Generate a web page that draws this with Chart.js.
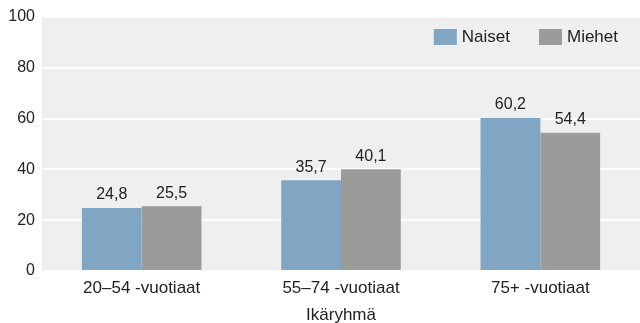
<!DOCTYPE html>
<html>
<head>
<meta charset="utf-8">
<script src="https://cdn.jsdelivr.net/npm/chart.js@4/dist/chart.umd.min.js"></script>
<style>
  html, body { margin: 0; padding: 0; background: #fff; }
  #wrap { width: 640px; height: 323px; }
</style>
</head>
<body>
<div id="wrap"><canvas id="grafica"></canvas></div>
<script>
var categories = ["20\u201354 -vuotiaat", "55\u201374 -vuotiaat", "75+ -vuotiaat"];
var naiset = [24.8, 35.7, 60.2];
var miehet = [25.5, 40.1, 54.4];
var seriesNames = ["Naiset", "Miehet"];
var yTicks = [0, 20, 40, 60, 80, 100];
var axisTitle = "Ikäryhmä";

var FONT = "'Liberation Sans', Arial, Helvetica, sans-serif";
var TXT = "#222222";

function fmt(v) {
	return v.toFixed(1).replace('.', ',');
}

// grey plot background
var bgPlugin = {
	id: 'bg',
	beforeDraw: function(chart) {
		var a = chart.chartArea, c = chart.ctx;
		c.save();
		c.fillStyle = '#efefef';
		c.fillRect(a.left, a.top, a.right - a.left, a.bottom - a.top);
		c.restore();
	}
};

// value labels and the legend inside the plot
var labelPlugin = {
	id: 'labels',
	afterDatasetsDraw: function(chart) {
		var c = chart.ctx;
		c.save();
		c.font = '16px ' + FONT;
		c.fillStyle = TXT;
		c.textAlign = 'center';
		c.textBaseline = 'bottom';
		chart.data.datasets.forEach(function(ds, i) {
			chart.getDatasetMeta(i).data.forEach(function(bar, j) {
				c.fillText(fmt(ds.data[j]), bar.x, bar.y - 5);
			});
		});

		// legend, laid out from the right
		var a = chart.chartArea;
		var x = a.right - 22;
		var y = 37;
		c.font = '17px ' + FONT;
		c.textAlign = 'left';
		c.textBaseline = 'middle';
		var items = chart.data.datasets.slice().reverse();
		items.forEach(function(ds) {
			var w = c.measureText(ds.label).width;
			x -= w;
			c.fillStyle = TXT;
			c.fillText(ds.label, x, y);
			x -= 5 + 23;
			c.fillStyle = ds.backgroundColor;
			c.fillRect(x, y - 8, 23, 16);
			x -= 29;
		});
		c.restore();
	}
};

var ctx = document.getElementById('grafica');
var myChart = new Chart(ctx, {
	type: 'bar',
	data: {
		labels: categories,
		datasets: [
			{ label: seriesNames[0], data: naiset, backgroundColor: '#80a6c3', borderWidth: 0,
			  categoryPercentage: 0.6, barPercentage: 1.0 },
			{ label: seriesNames[1], data: miehet, backgroundColor: '#9b9b99', borderWidth: 0,
			  categoryPercentage: 0.6, barPercentage: 1.0 }
		]
	},
	options: {
		responsive: true,
		maintainAspectRatio: false,
		animation: false,
		layout: { padding: { top: 17, right: 0, left: 0, bottom: 0 } },
		plugins: {
			legend: { display: false },
			tooltip: { enabled: false }
		},
		scales: {
			x: {
				grid: { display: false, drawTicks: false },
				border: { display: false },
				ticks: { color: TXT, font: { family: FONT, size: 17 }, padding: 7 },
				title: { display: true, text: axisTitle, color: TXT, font: { family: FONT, size: 17 }, padding: { top: 8, bottom: -3 } },
				afterFit: function(s) { s.height = 52; }
			},
			y: {
				min: 0,
				max: 100,
				afterBuildTicks: function(s) {
					s.ticks = yTicks.map(function(v) { return { value: v }; });
				},
				grid: { color: '#ffffff', lineWidth: 2, drawTicks: false },
				border: { display: false },
				ticks: { color: TXT, font: { family: FONT, size: 16 }, padding: 7 },
				afterFit: function(s) { s.width = 42; }
			}
		}
	},
	plugins: [bgPlugin, labelPlugin]
});
</script>
</body>
</html>
